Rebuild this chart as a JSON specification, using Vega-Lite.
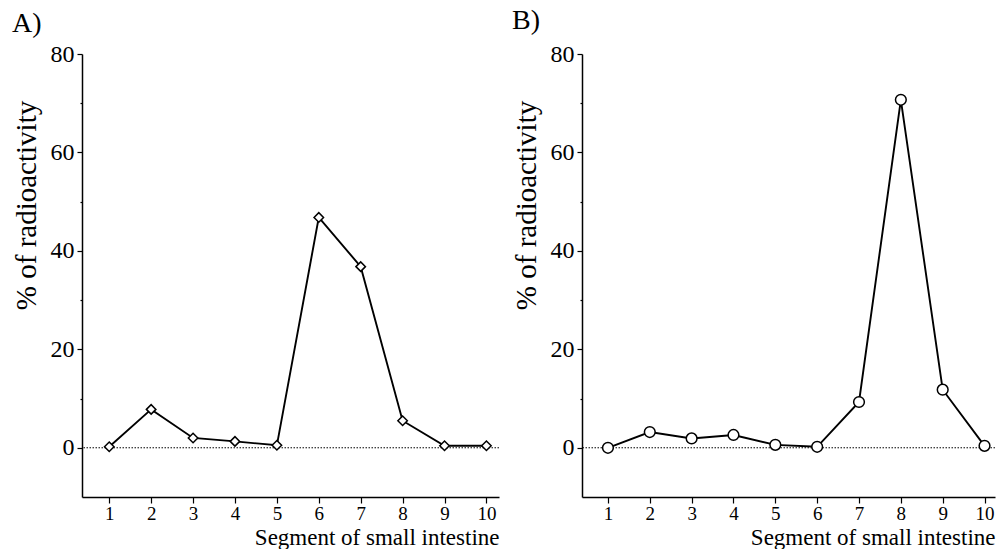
{
  "$schema": "https://vega.github.io/schema/vega-lite/v6.json",
  "background": "white",
  "padding": {"left": 12, "top": 7, "right": 0, "bottom": 0},
  "bounds": "flush",
  "spacing": 83,
  "config": {
    "font": "Liberation Serif",
    "view": {"stroke": null},
    "axis": {
      "domainColor": "black", "domainWidth": 1.5, "tickColor": "black", "tickWidth": 1.2,
      "labelColor": "black", "titleColor": "black", "labelFont": "Liberation Serif",
      "titleFont": "Liberation Serif", "titleFontWeight": "normal", "grid": false
    },
    "title": {"font": "Liberation Serif", "fontSize": 28, "fontWeight": "normal", "anchor": "start", "frame": "bounds", "color": "black"}
  },
  "datasets": {
    "A": [
      {"seg": 1, "pct": 0.2}, {"seg": 2, "pct": 7.8}, {"seg": 3, "pct": 2.0}, {"seg": 4, "pct": 1.3},
      {"seg": 5, "pct": 0.5}, {"seg": 6, "pct": 46.8}, {"seg": 7, "pct": 36.8}, {"seg": 8, "pct": 5.5},
      {"seg": 9, "pct": 0.4}, {"seg": 10, "pct": 0.4}
    ],
    "B": [
      {"seg": 1, "pct": 0.0}, {"seg": 2, "pct": 3.2}, {"seg": 3, "pct": 1.9}, {"seg": 4, "pct": 2.6},
      {"seg": 5, "pct": 0.6}, {"seg": 6, "pct": 0.2}, {"seg": 7, "pct": 9.3}, {"seg": 8, "pct": 70.7},
      {"seg": 9, "pct": 11.8}, {"seg": 10, "pct": 0.4}
    ]
  },
  "hconcat": [
    {
      "title": {"text": "A)", "offset": 4},
      "width": 417,
      "height": 443,
      "layer": [
        {
          "data": {"values": [{"z": 0}]},
          "mark": {"type": "rule", "strokeDash": [1.5, 1.5], "strokeWidth": 1, "color": "black"},
          "encoding": {"y": {"datum": 0, "type": "quantitative"}}
        },
        {
          "data": {"name": "A"},
          "mark": {"type": "line", "color": "black", "strokeWidth": 1.9},
          "encoding": {
            "x": {"field": "seg", "type": "quantitative", "scale": {"domain": [0.35, 10.3], "nice": false, "zero": false},
              "axis": {"title": "Segment of small intestine", "values": [1,2,3,4,5,6,7,8,9,10], "format": "d", "tickSize": 6,
                "labelFontSize": 19, "labelPadding": 1, "titleFontSize": 23, "titleAnchor": "end", "titlePadding": 3}},
            "y": {"field": "pct", "type": "quantitative", "scale": {"domain": [-10, 80], "nice": false, "zero": false},
              "axis": {"title": "% of radioactivity", "values": [0,10,20,30,40,50,60,70,80],
                "labelExpr": "datum.value % 20 === 0 ? datum.label : ''",
                "tickSize": {"condition": {"test": "datum.value % 20 === 0", "value": 5}, "value": 2},
                "labelFontSize": 24, "labelPadding": 3, "titleFontSize": 29, "titlePadding": 9, "titleY": 151}}
          }
        },
        {
          "data": {"name": "A"},
          "mark": {"type": "point", "shape": "diamond", "filled": true, "fill": "white", "stroke": "black", "strokeWidth": 1.5, "size": 90, "opacity": 1},
          "encoding": {
            "x": {"field": "seg", "type": "quantitative"},
            "y": {"field": "pct", "type": "quantitative"}
          }
        }
      ]
    },
    {
      "title": {"text": "B)", "offset": 7},
      "width": 413,
      "height": 443,
      "layer": [
        {
          "data": {"values": [{"z": 0}]},
          "mark": {"type": "rule", "strokeDash": [1.5, 1.5], "strokeWidth": 1, "color": "black"},
          "encoding": {"y": {"datum": 0, "type": "quantitative"}}
        },
        {
          "data": {"name": "B"},
          "mark": {"type": "line", "color": "black", "strokeWidth": 1.9},
          "encoding": {
            "x": {"field": "seg", "type": "quantitative", "scale": {"domain": [0.38, 10.25], "nice": false, "zero": false},
              "axis": {"title": "Segment of small intestine", "values": [1,2,3,4,5,6,7,8,9,10], "format": "d", "tickSize": 6,
                "labelFontSize": 19, "labelPadding": 1, "titleFontSize": 23, "titleAnchor": "end", "titlePadding": 3}},
            "y": {"field": "pct", "type": "quantitative", "scale": {"domain": [-10, 80], "nice": false, "zero": false},
              "axis": {"title": "% of radioactivity", "values": [0,10,20,30,40,50,60,70,80],
                "labelExpr": "datum.value % 20 === 0 ? datum.label : ''",
                "tickSize": {"condition": {"test": "datum.value % 20 === 0", "value": 5}, "value": 2},
                "labelFontSize": 24, "labelPadding": 3, "titleFontSize": 29, "titlePadding": 9, "titleY": 151}}
          }
        },
        {
          "data": {"name": "B"},
          "mark": {"type": "point", "shape": "circle", "filled": true, "fill": "white", "stroke": "black", "strokeWidth": 1.5, "size": 115, "opacity": 1},
          "encoding": {
            "x": {"field": "seg", "type": "quantitative"},
            "y": {"field": "pct", "type": "quantitative"}
          }
        }
      ]
    }
  ]
}
